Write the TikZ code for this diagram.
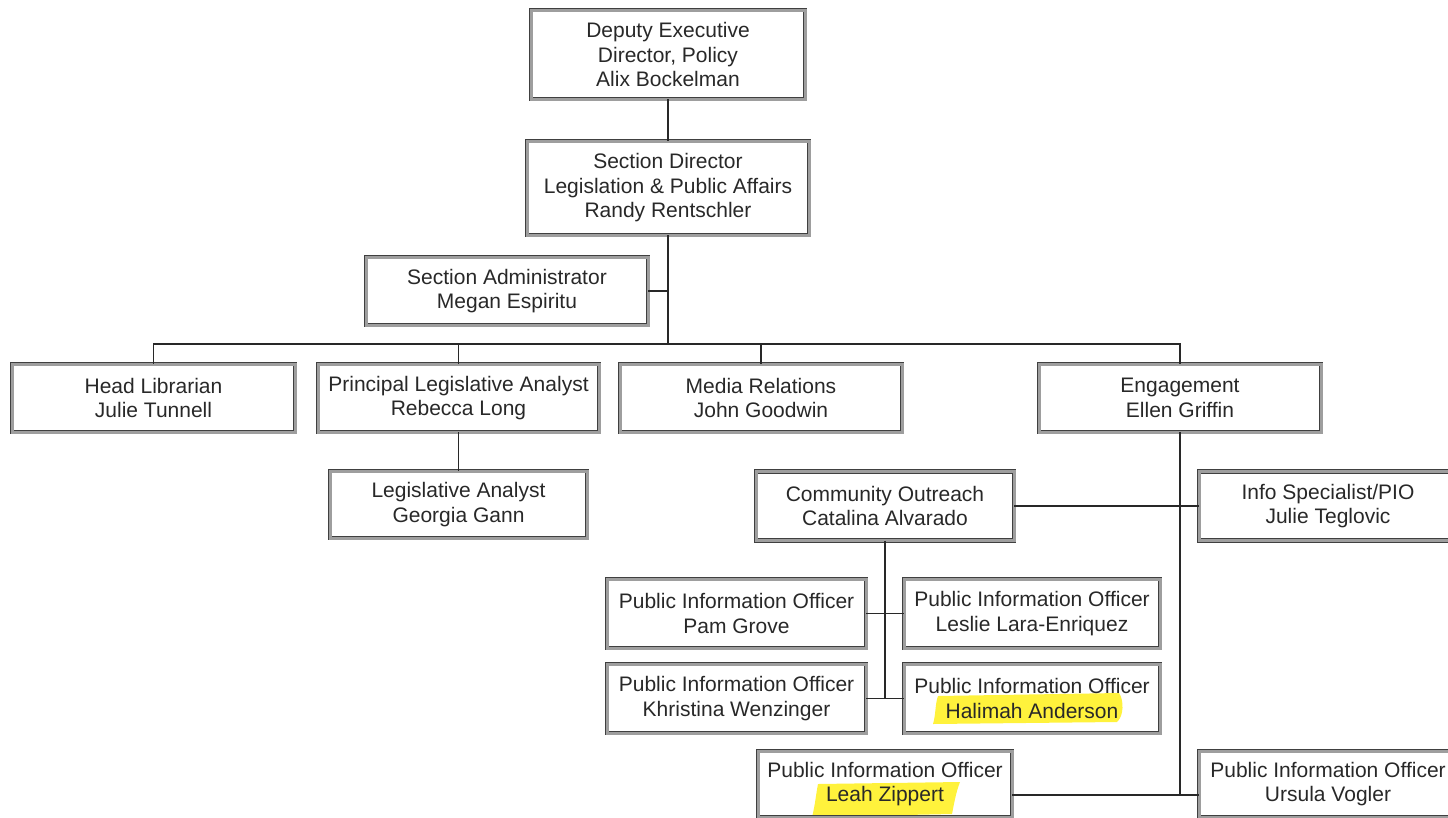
\documentclass[tikz,border=0pt]{standalone}
\usepackage{fontspec}
\setmainfont{Liberation Sans}
\definecolor{marker}{RGB}{255,242,60}
\definecolor{ink}{RGB}{40,40,40}
\begin{document}
\begin{tikzpicture}[x=1pt,y=-1pt,
  pbox/.style={draw=black!75, line width=0.7pt, double=black!38, double distance=3pt,
    align=center, inner sep=0pt, text=ink, font=\fontsize{21}{24.5}\selectfont},
  conn/.style={draw=ink, line width=1.4pt},
  hilite/.style={fill=marker, draw=none}]
\useasboundingbox (0,0) rectangle (1448,817);
\clip (0,0) rectangle (1448,817);

% highlighter strokes under two names
\path[hilite] (938,696) -- (1119,693) .. controls (1124,700) and (1124,716) .. (1117,722)
  -- (933,724) .. controls (936,714) and (935,704) .. (938,696) -- cycle;
\path[hilite] (818,784) -- (960,782) .. controls (956,792) and (954,804) .. (952,814)
  -- (812,817) .. controls (815,806) and (816,794) .. (818,784) -- cycle;

% boxes (outer size minus the double rule width)
\node[pbox, minimum width=274, minimum height=89] (dep) at (668,54.5)
  {Deputy Executive\\Director, Policy\\Alix Bockelman};
\node[pbox, minimum width=282, minimum height=94] (sd) at (668,188)
  {Section Director\\Legislation \& Public Affairs\\Randy Rentschler};
\node[pbox, minimum width=282, minimum height=68] (sa) at (507,291)
  {Section Administrator\\Megan Espiritu};

\node[pbox, minimum width=283, minimum height=68] (hl) at (153.5,398)
  {Head Librarian\\Julie Tunnell};
\node[pbox, minimum width=281, minimum height=68] (pla) at (458.5,398)
  {Principal Legislative Analyst\\Rebecca Long};
\node[pbox, minimum width=282, minimum height=68] (mr) at (761,398)
  {Media Relations\\John Goodwin};
\node[pbox, minimum width=282, minimum height=68] (eng) at (1180,398)
  {Engagement\\Ellen Griffin};

\node[pbox, minimum width=257, minimum height=67] (la) at (458.5,504.5)
  {Legislative Analyst\\Georgia Gann};
\node[pbox, minimum width=258, minimum height=69] (co) at (885,506)
  {Community Outreach\\Catalina Alvarado};
\node[pbox, minimum width=258, minimum height=69] (info) at (1328,506)
  {Info Specialist/PIO\\Julie Teglovic};

\node[pbox, minimum width=259, minimum height=69] (pam) at (736.5,613.5)
  {Public Information Officer\\Pam Grove};
\node[pbox, minimum width=256, minimum height=69] (les) at (1032,613.5)
  {Public Information Officer\\Leslie Lara-Enriquez};
\node[pbox, minimum width=259, minimum height=69] (khr) at (736.5,698.5)
  {Public Information Officer\\Khristina Wenzinger};
\node[pbox, minimum width=256, minimum height=69] (hal) at (1032,698.5)
  {Public Information Officer\\Halimah Anderson};

\node[pbox, minimum width=254, minimum height=66] (leah) at (885,784)
  {Public Information Officer\\Leah Zippert};
\node[pbox, minimum width=258, minimum height=66] (urs) at (1328,784)
  {Public Information Officer\\Ursula Vogler};

% reporting lines
\coordinate (bus) at (668,344);
\coordinate (engfoot) at (1180,795);
\draw[conn] (dep.south) -- (sd.north);
\draw[conn] (sd.south) -- (bus);
\draw[conn] (sa.east) -- (sa.east -| sd.south);
\draw[conn] (hl.north) |- (eng.north |- bus) -- (eng.north);
\draw[conn] (pla.north) -- (pla.north |- bus);
\draw[conn] (mr.north) -- (mr.north |- bus);
\draw[conn] (pla.south) -- (la.north);
\draw[conn] (eng.south) -- (engfoot);
\draw[conn] (leah.east |- engfoot) -- (urs.west |- engfoot);
\draw[conn] (co.east) -- (info.west);
\draw[conn] (co.south) -- (co.south |- khr.east);
\draw[conn] (pam.east) -- (les.west);
\draw[conn] (khr.east) -- (hal.west);
\end{tikzpicture}
\end{document}
